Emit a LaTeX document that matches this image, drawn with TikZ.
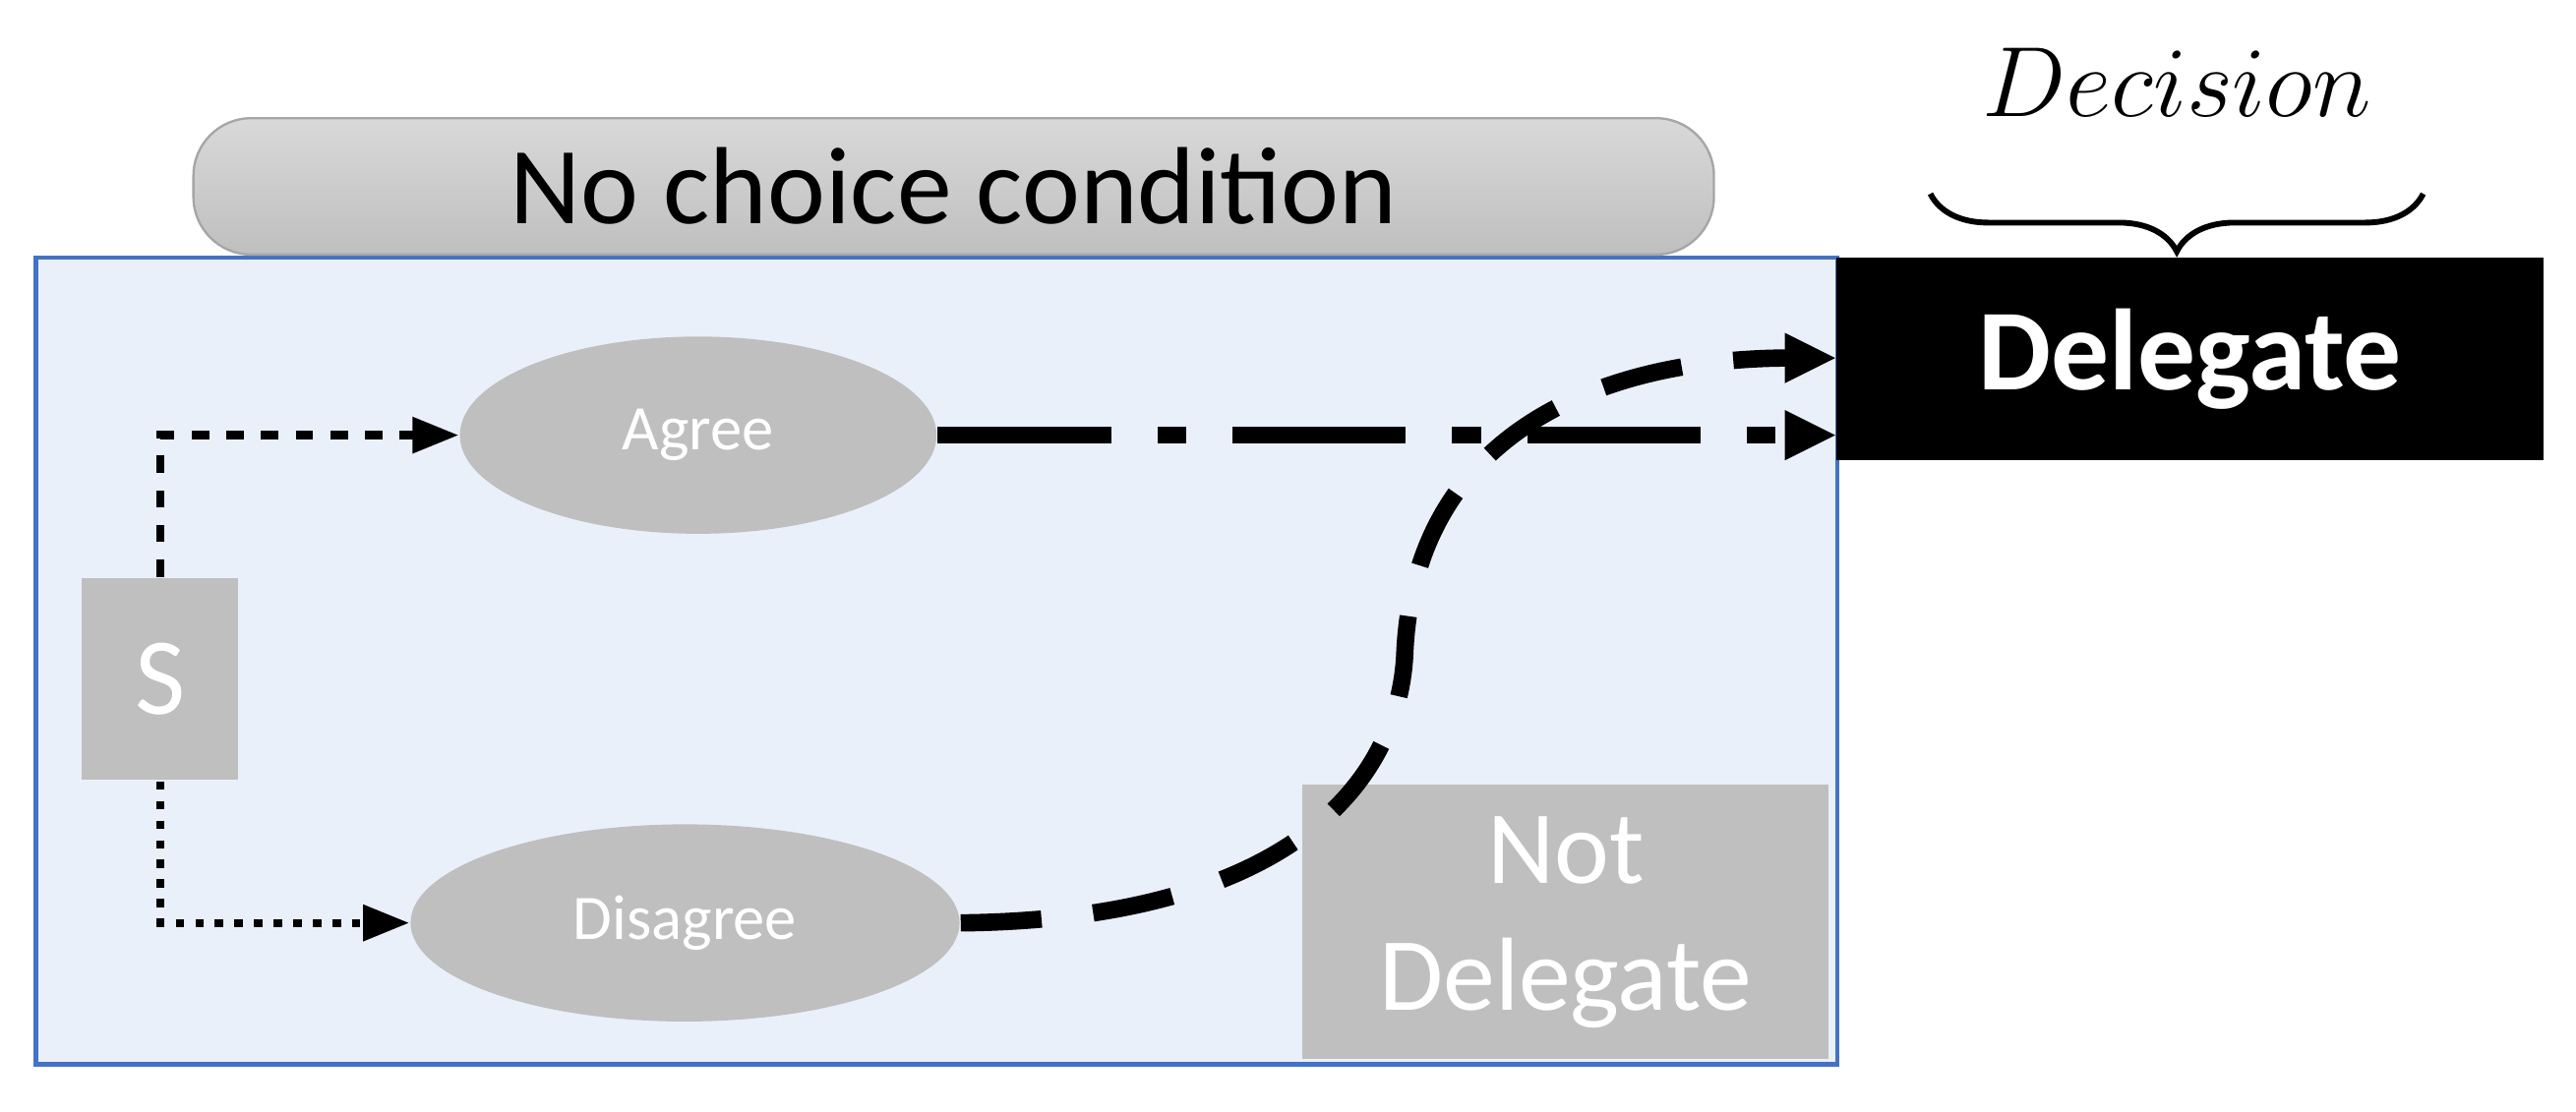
\documentclass[tikz,border=0pt]{standalone}
\usepackage{fontspec}
\setmainfont{Carlito}
\usetikzlibrary{shapes.geometric,arrows.meta,decorations.pathreplacing}
\definecolor{bluebg}{HTML}{EAF0FA}
\definecolor{blueln}{HTML}{4472C4}
\definecolor{gbox}{HTML}{BFBFBF}
\begin{document}
\begin{tikzpicture}[x=0.01cm,y=-0.01cm,
  gfill/.style={fill=gbox,draw=none,text=white},
  arr/.style={line width=1.4pt},
  tipA/.style={-{Triangle[length=8pt,width=6pt]},line width=1.4pt,solid},
  thk/.style={line width=3pt},
  tipB/.style={-{Triangle[length=9pt,width=8pt]},line width=3pt,solid}]
\useasboundingbox (0,0) rectangle (1568,677);
\node[draw=blueln,fill=bluebg,line width=0.8pt,inner sep=0,minimum width=10.96cm,minimum height=4.91cm] (frame) at (570,402.5) {};
\node[rounded corners=10pt,top color=gbox!60,bottom color=gbox,draw=gray!70,minimum width=9.25cm,minimum height=0.83cm,font=\fontsize{19}{24}\selectfont] (hdr) at (580.5,113.5) {No choice condition};
\node[fill=black,text=white,minimum width=4.3cm,minimum height=1.23cm,inner sep=0,font=\fontsize{20}{24}\selectfont\bfseries] (del) at (1333,218.5) {Delegate};
\node[font=\fontsize{17}{20}\selectfont] (dec) at (1325,50) {$Decision$};
\draw[decorate,decoration={brace,mirror,amplitude=10pt},line width=1pt] (1175,118) -- (1475,118);
\node[gfill,minimum width=0.95cm,minimum height=1.23cm,inner sep=0,font=\fontsize{19}{22}\selectfont] (s) at (97.5,413.5) {S};
\node[gfill,ellipse,minimum width=2.9cm,minimum height=1.2cm,font=\fontsize{11}{13}\selectfont] (ag) at (425,265) {Agree};
\node[gfill,ellipse,minimum width=3.34cm,minimum height=1.2cm,font=\fontsize{11}{13}\selectfont] (dis) at (417,562) {Disagree};
\node[gfill,minimum width=3.2cm,minimum height=1.67cm,inner sep=0,align=center,font=\fontsize{18}{22}\selectfont] (nd) at (953,561.5) {Not\\Delegate};
\coordinate (a1) at (1118,265);
\coordinate (a2) at (1118,218);
\coordinate (p1) at (260,265);
\coordinate (p2) at (230,562);
\coordinate (q1) at (1090,265);
\coordinate (q2) at (1090,218);
\draw[arr,dashed] (s.north) |- (p1);
\draw[tipA] (p1) -- (ag.west);
\draw[arr,dotted] (s.south) |- (p2);
\draw[tipA] (p2) -- (dis.west);
\draw[thk,dash pattern=on 30pt off 8pt on 5pt off 8pt] (ag.east) -- (q1);
\draw[tipB] (q1) -- (a1);
\draw[thk,dash pattern=on 14pt off 9pt] (dis.east) .. controls (780,560) and (850,480) .. (855,400) .. controls (860,260) and (980,218) .. (q2);
\draw[tipB] (q2) -- (a2);
\end{tikzpicture}
\end{document}
